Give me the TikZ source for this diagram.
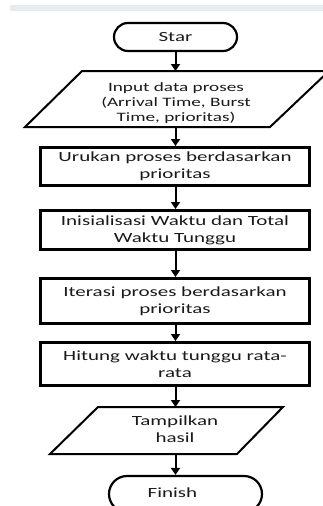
\documentclass[tikz,border=0pt]{standalone}
\usepackage{fontspec}
\setmainfont{Carlito}[FakeStretch=1.5]
\usetikzlibrary{arrows.meta}
\definecolor{band}{HTML}{E6ECEE}
\definecolor{txt}{HTML}{1A1A1A}
\begin{document}
\begin{tikzpicture}[x=1pt,y=-1pt,
  procbox/.style={draw, line width=3pt, minimum width=269pt, inner sep=0pt, align=center,
    font=\fontsize{14}{17}\selectfont, text=txt},
  term/.style={draw, line width=2.2pt, inner sep=0pt, align=center,
    font=\fontsize{14}{17}\selectfont, text=txt},
  iobox/.style={draw, line width=2pt, line join=miter},
  iotext/.style={align=center, text=txt, inner sep=0pt},
  flow/.style={-{Triangle[length=7pt,width=9pt]}, line width=2pt}]
\useasboundingbox (0,0) rectangle (323,506);
\clip (0,0) rectangle (323,506);
\fill[band] (10,5) rectangle (323,11);

% start
\node[term, minimum width=123pt, minimum height=28pt, rounded corners=14pt] (start) at (175.5,37) {Star};

% input parallelogram
\draw[iobox] (82,71) -- (329,71) -- (270,127) -- (25,127) -- cycle;
\coordinate (p1n) at (175.5,71);
\coordinate (p1s) at (175.5,127);
\node[iotext, font=\fontsize{12.8}{15}\selectfont] (p1t) at (176,103) {Input  data proses\\(Arrival Time, Burst\\Time, prioritas)};

% process boxes
\node[procbox, minimum height=38pt] (b1) at (175,166.5) {Urukan proses berdasarkan\\prioritas};
\node[procbox, minimum height=39pt] (b2) at (175,230) {Inisialisasi Waktu dan Total\\Waktu Tunggu};
\node[procbox, minimum height=45pt] (b3) at (175,301) {Iterasi proses berdasarkan\\prioritas};
\node[procbox, minimum height=43pt] (b4) at (175,364) {Hitung waktu tunggu rata-\\rata};

% output parallelogram
\draw[iobox] (98,407) -- (283,407) -- (237,454) -- (50,454) -- cycle;
\coordinate (p2n) at (175.5,407);
\coordinate (p2s) at (175.5,454);
\node[iotext, font=\fontsize{14}{17}\selectfont] (p2t) at (175,429.5) {Tampilkan\\hasil};

% finish
\node[term, minimum width=153pt, minimum height=36pt, rounded corners=18pt] (finish) at (185.5,494) {};
\node[iotext, font=\fontsize{14}{17}\selectfont] (fint) at (172.5,493) {Finish};

% connectors
\draw[flow] (start.south) -- (p1n);
\draw[flow] (p1s) -- (b1.north -| p1s);
\draw[flow] (b1.south -| p1s) -- (b2.north -| p1s);
\draw[flow] (b2.south -| p1s) -- (b3.north -| p1s);
\draw[flow] (b3.south -| p1s) -- (b4.north -| p1s);
\draw[flow] (b4.south -| p1s) -- (p2n);
\draw[flow] (p2s) -- (finish.north -| p2s);
\end{tikzpicture}
\end{document}
